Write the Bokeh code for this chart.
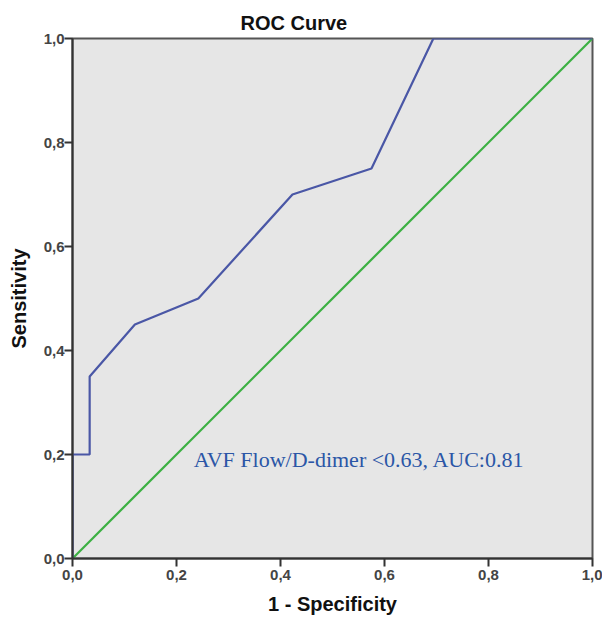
from bokeh.plotting import figure
from bokeh.models import Label, CustomJSTickFormatter, FixedTicker, Range1d
from bokeh.embed import file_html
from bokeh.resources import INLINE

# ROC curve data (1 - specificity, sensitivity)
fpr = [0.0, 0.0, 0.033, 0.033, 0.12, 0.242, 0.423, 0.575, 0.694, 1.0]
tpr = [0.0, 0.2, 0.2, 0.35, 0.45, 0.5, 0.70, 0.75, 1.0, 1.0]
ref_x = [0.0, 1.0]
ref_y = [0.0, 1.0]
ticks = [0.0, 0.2, 0.4, 0.6, 0.8, 1.0]
title_text = "ROC Curve"
x_label = "1 - Specificity"
y_label = "Sensitivity"
annotation = "AVF Flow/D-dimer <0.63, AUC:0.81"

p = figure(width=602, height=618, output_backend="svg", toolbar_location=None,
           x_range=Range1d(0, 1), y_range=Range1d(0, 1),
           min_border_left=72, min_border_right=10, min_border_top=38, min_border_bottom=60)
p.title.text = title_text
p.title.align = "left"
p.title.offset = 168
p.title.text_font = "Liberation Sans"
p.title.text_font_size = "20px"
p.title.text_font_style = "bold"
p.title.text_color = "#111111"
p.title.standoff = 9

p.background_fill_color = "#e6e6e6"
p.border_fill_color = "white"
p.outline_line_color = "#555555"
p.outline_line_width = 2
p.grid.visible = False

fmt = CustomJSTickFormatter(code="return tick.toFixed(1).replace('.', ',');")
for ax in (p.xaxis[0], p.yaxis[0]):
    ax.ticker = FixedTicker(ticks=ticks)
    ax.formatter = fmt
    ax.minor_tick_line_color = None
    ax.major_tick_in = 0
    ax.major_tick_out = 8
    ax.major_tick_line_color = "#333333"
    ax.major_tick_line_width = 2
    ax.axis_line_color = "#333333"
    ax.axis_line_width = 2
    ax.major_label_text_font = "Liberation Sans"
    ax.major_label_text_font_size = "15px"
    ax.major_label_text_font_style = "bold"
    ax.major_label_text_color = "#444444"
    ax.axis_label_text_font = "Liberation Sans"
    ax.axis_label_text_font_size = "20px"
    ax.axis_label_text_font_style = "bold"
    ax.axis_label_text_color = "#111111"

p.xaxis.axis_label = x_label
p.yaxis.axis_label = y_label
p.xaxis.major_label_standoff = 3
p.yaxis.major_label_standoff = 0
p.xaxis.axis_label_standoff = 10
p.yaxis.axis_label_standoff = 11

p.line(ref_x, ref_y, line_color="#3cb043", line_width=2.2)
p.line(fpr, tpr, line_color="#4a57a6", line_width=2.2)

lbl = Label(x=0.233, y=0.19, text=annotation, text_font="Liberation Serif",
            text_font_size="22px", text_color="#2b56a6", text_baseline="alphabetic")
p.add_layout(lbl)

open("out.html", "w").write(file_html(p, INLINE))
